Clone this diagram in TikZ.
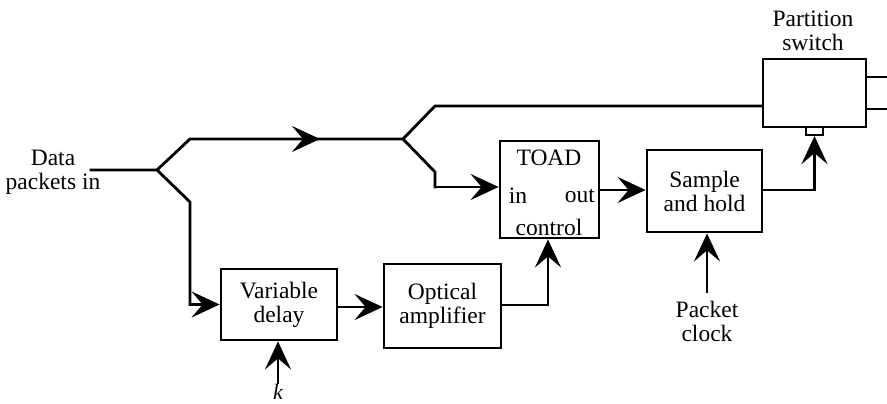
\documentclass[tikz,border=0pt]{standalone}
\usepackage{fontspec}
\setmainfont{Liberation Serif}
\usetikzlibrary{arrows.meta}
\begin{document}
\begin{tikzpicture}[x=1pt,y=-1pt,
  line width=2.8pt, line cap=rect,
  arr/.style={-{Stealth[length=28pt,width=26pt,inset=11pt]}},
  blk/.style={draw,line width=2.8pt,inner sep=0pt,align=center,font=\fontsize{23.5}{24}\selectfont},
  lbl/.style={inner sep=0pt,align=center,font=\fontsize{23.5}{24}\selectfont}]
\useasboundingbox (0,0) rectangle (887,404);
% blocks
\node[blk,minimum width=116pt,minimum height=71pt] (vd) at (279,304.5) {Variable\\delay};
\node[blk,minimum width=117pt,minimum height=84pt] (oa) at (442.5,306) {Optical\\amplifier};
\node[blk,minimum width=99pt,minimum height=97pt] (toad) at (549.5,189.5) {};
\node[blk,minimum width=115pt,minimum height=82pt] (sh) at (704.5,191) {Sample\\and hold};
\node[blk,minimum width=103pt,minimum height=68pt] (ps) at (814.5,93) {};
\node[draw,line width=2.2pt,inner sep=0pt,minimum width=17pt,minimum height=8pt] (psp) at (814.5,131) {};
% texts
\node[lbl] (tt) at (549,158) {TOAD};
\node[lbl] (tin) at (518,196) {in};
\node[lbl] (tout) at (580,196) {out};
\node[lbl] (tctl) at (549,227) {control};
\node[lbl] (din) at (53,172) {Data\\packets in};
\node[lbl] (pst) at (813,31) {Partition\\switch};
\node[lbl] (pc) at (707,321) {Packet\\clock};
\node[lbl,font=\fontsize{22}{24}\selectfont\itshape,anchor=north] (k) at (278,383) {k};
% coordinates
\coordinate (inS) at (91,170);
\coordinate (s1) at (157,170);
\coordinate (u1) at (190,139);
\coordinate (a1) at (320,139);
\coordinate (s2) at (403,139);
\coordinate (u2) at (435,106);
\coordinate (l2a) at (435,172);
\coordinate (l2b) at (435,187);
\coordinate (l1a) at (190,202);
\coordinate (l1b) at (190,304.5);
\coordinate (oaT) at (548,305);
\coordinate (tO) at (599,190);
\coordinate (pcT) at (707,292);
\coordinate (o1) at (887,77);
\coordinate (o2) at (887,109);
% connectors
\draw (inS) -- (s1) -- (u1) -- (s2) -- (u2) -- (ps.west |- u2);
\draw[arr] (u1) -- (a1);
\draw (s2) -- (l2a) -- (l2b);
\draw[arr] (l2b) -- (toad.west |- l2b);
\draw (s1) -- (l1a) -- (l1b);
\draw[arr] (l1b) -- (vd.west);
\draw[arr] (vd.east |- 0,307) -- (oa.west |- 0,307);
\draw (oa.east |- oaT) -- (oaT);
\draw[arr] (oaT) -- (toad.south -| oaT);
\draw[arr] (tO) -- (sh.west |- tO);
\draw (sh.east |- tO) -- (psp.south |- tO);
\draw[arr] (psp.south |- tO) -- (psp.south);
\draw[arr] (pc.north |- pcT) -- (sh.south -| pc.north);
\draw[arr] (k.north) -- (vd.south -| k.north);
\draw (ps.east |- o1) -- (o1);
\draw (ps.east |- o2) -- (o2);
\end{tikzpicture}
\end{document}
